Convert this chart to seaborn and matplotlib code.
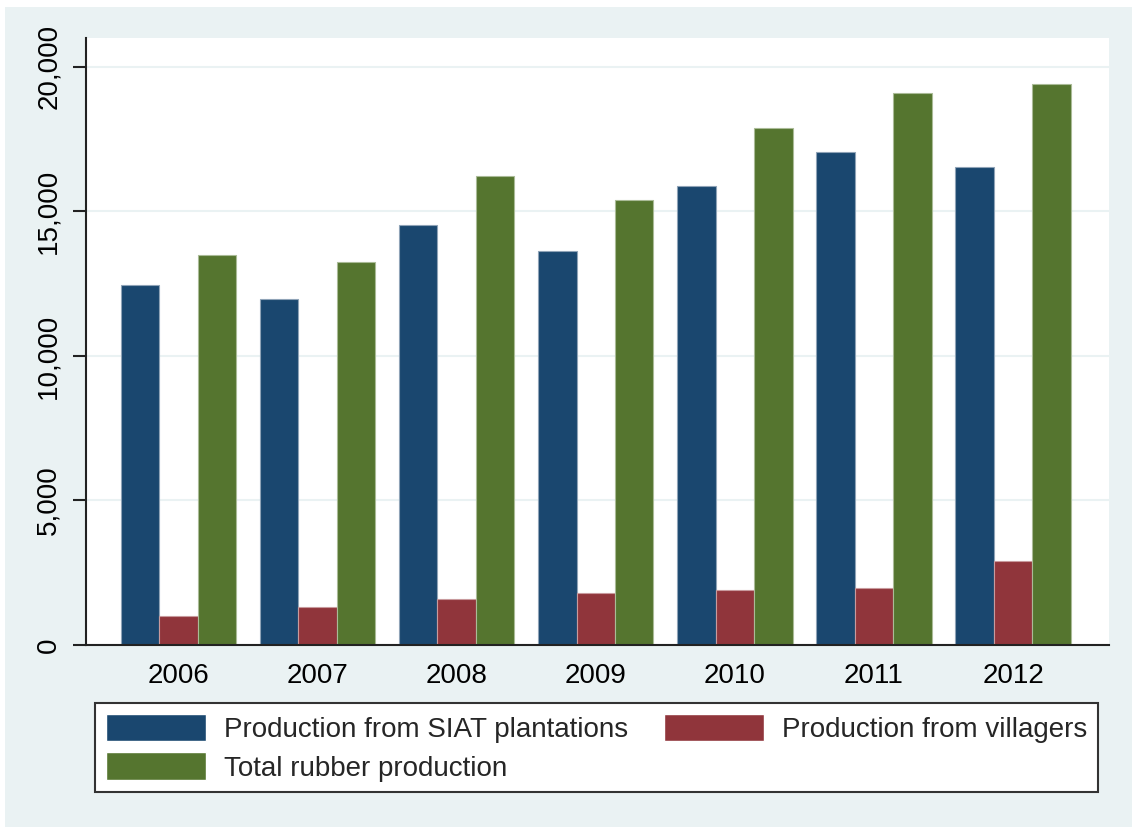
import matplotlib
matplotlib.use("Agg")
import matplotlib.pyplot as plt
import matplotlib.patches as mpatches
import seaborn as sns
import pandas as pd
from matplotlib.ticker import FuncFormatter, FixedLocator

years = ["2006", "2007", "2008", "2009", "2010", "2011", "2012"]
siat = [12470, 11960, 14540, 13620, 15890, 17060, 16520]
villagers = [1010, 1315, 1590, 1790, 1900, 1970, 2890]
total = [13490, 13240, 16210, 15400, 17870, 19090, 19400]
series_names = ["Production from SIAT plantations", "Production from villagers",
                "Total rubber production"]
yticks = [0, 5000, 10000, 15000, 20000]

colors = ["#1a476f", "#90353b", "#55752f"]
edge_colors = ["#8fa3b7", "#c89a9d", "#aabb97"]
bg = "#eaf2f3"

df = pd.DataFrame({
    "year": years * 3,
    "value": siat + villagers + total,
    "series": [series_names[0]] * 7 + [series_names[1]] * 7 + [series_names[2]] * 7,
})

sns.set_theme(style="white")
plt.rcParams["font.family"] = ["Liberation Sans", "DejaVu Sans"]

W, H = 1132, 827
fig = plt.figure(figsize=(W / 100, H / 100), dpi=100, facecolor="white")
fig.patches.append(mpatches.Rectangle((5 / W, 0), 1 - 5 / W, 1 - 7 / H,
                                      transform=fig.transFigure, facecolor=bg,
                                      edgecolor="none", zorder=-10))

ax = fig.add_axes([86 / W, 1 - 645 / H, (1109 - 86) / W, (645 - 38) / H])
ax.set_facecolor("white")

sns.barplot(data=df, x="year", y="value", hue="series", order=years,
            hue_order=series_names, palette=colors, saturation=1, width=0.83,
            ax=ax, errorbar=None, legend=True)

for cont, ec in zip(ax.containers, edge_colors):
    for p in cont:
        p.set_edgecolor(ec)
        p.set_linewidth(0.8)

ax.set_ylim(0, 21000)
ax.set_xlim(-0.665, 6.69)
ax.yaxis.set_major_locator(FixedLocator(yticks))
ax.yaxis.set_major_formatter(FuncFormatter(lambda v, p: f"{int(v):,}"))
ax.grid(axis="y", color=bg, linewidth=1.5)
ax.set_axisbelow(True)
ax.set_xlabel("")
ax.set_ylabel("")

for s in ["top", "right"]:
    ax.spines[s].set_visible(False)
for s in ["left", "bottom"]:
    ax.spines[s].set_color("#222222")
    ax.spines[s].set_linewidth(1.5)

ax.tick_params(axis="x", length=0, pad=13, labelsize=20, colors="black")
ax.tick_params(axis="y", length=9.5, width=1.5, color="#222222", pad=8,
               labelsize=20, labelcolor="black", left=True)
for lab in ax.get_yticklabels():
    lab.set_rotation(90)
    lab.set_va("center")
    lab.set_ha("right")

handles, labels = ax.get_legend_handles_labels()
ax.get_legend().remove()
# matplotlib fills legend columns first; reorder so rows read SIAT, villagers / total
order = [0, 2, 1]
handles = [handles[i] for i in order]
labels = [labels[i] for i in order]
leg = fig.legend(handles, labels, ncol=2, loc="upper left",
                 bbox_to_anchor=(95 / W, 1 - 703 / H, (1098 - 95) / W, 0.0),
                 mode="expand", fontsize=20, frameon=True, fancybox=False,
                 borderpad=0.38, handlelength=3.6, handleheight=1.15,
                 handletextpad=0.65, labelspacing=0.35, borderaxespad=0,
                 columnspacing=1.4)
leg.get_frame().set_edgecolor("#333333")
leg.get_frame().set_linewidth(1.5)
leg.get_frame().set_facecolor("white")
leg.get_frame().set_alpha(1)

fig.savefig("out.png", dpi=100, facecolor=fig.get_facecolor())
